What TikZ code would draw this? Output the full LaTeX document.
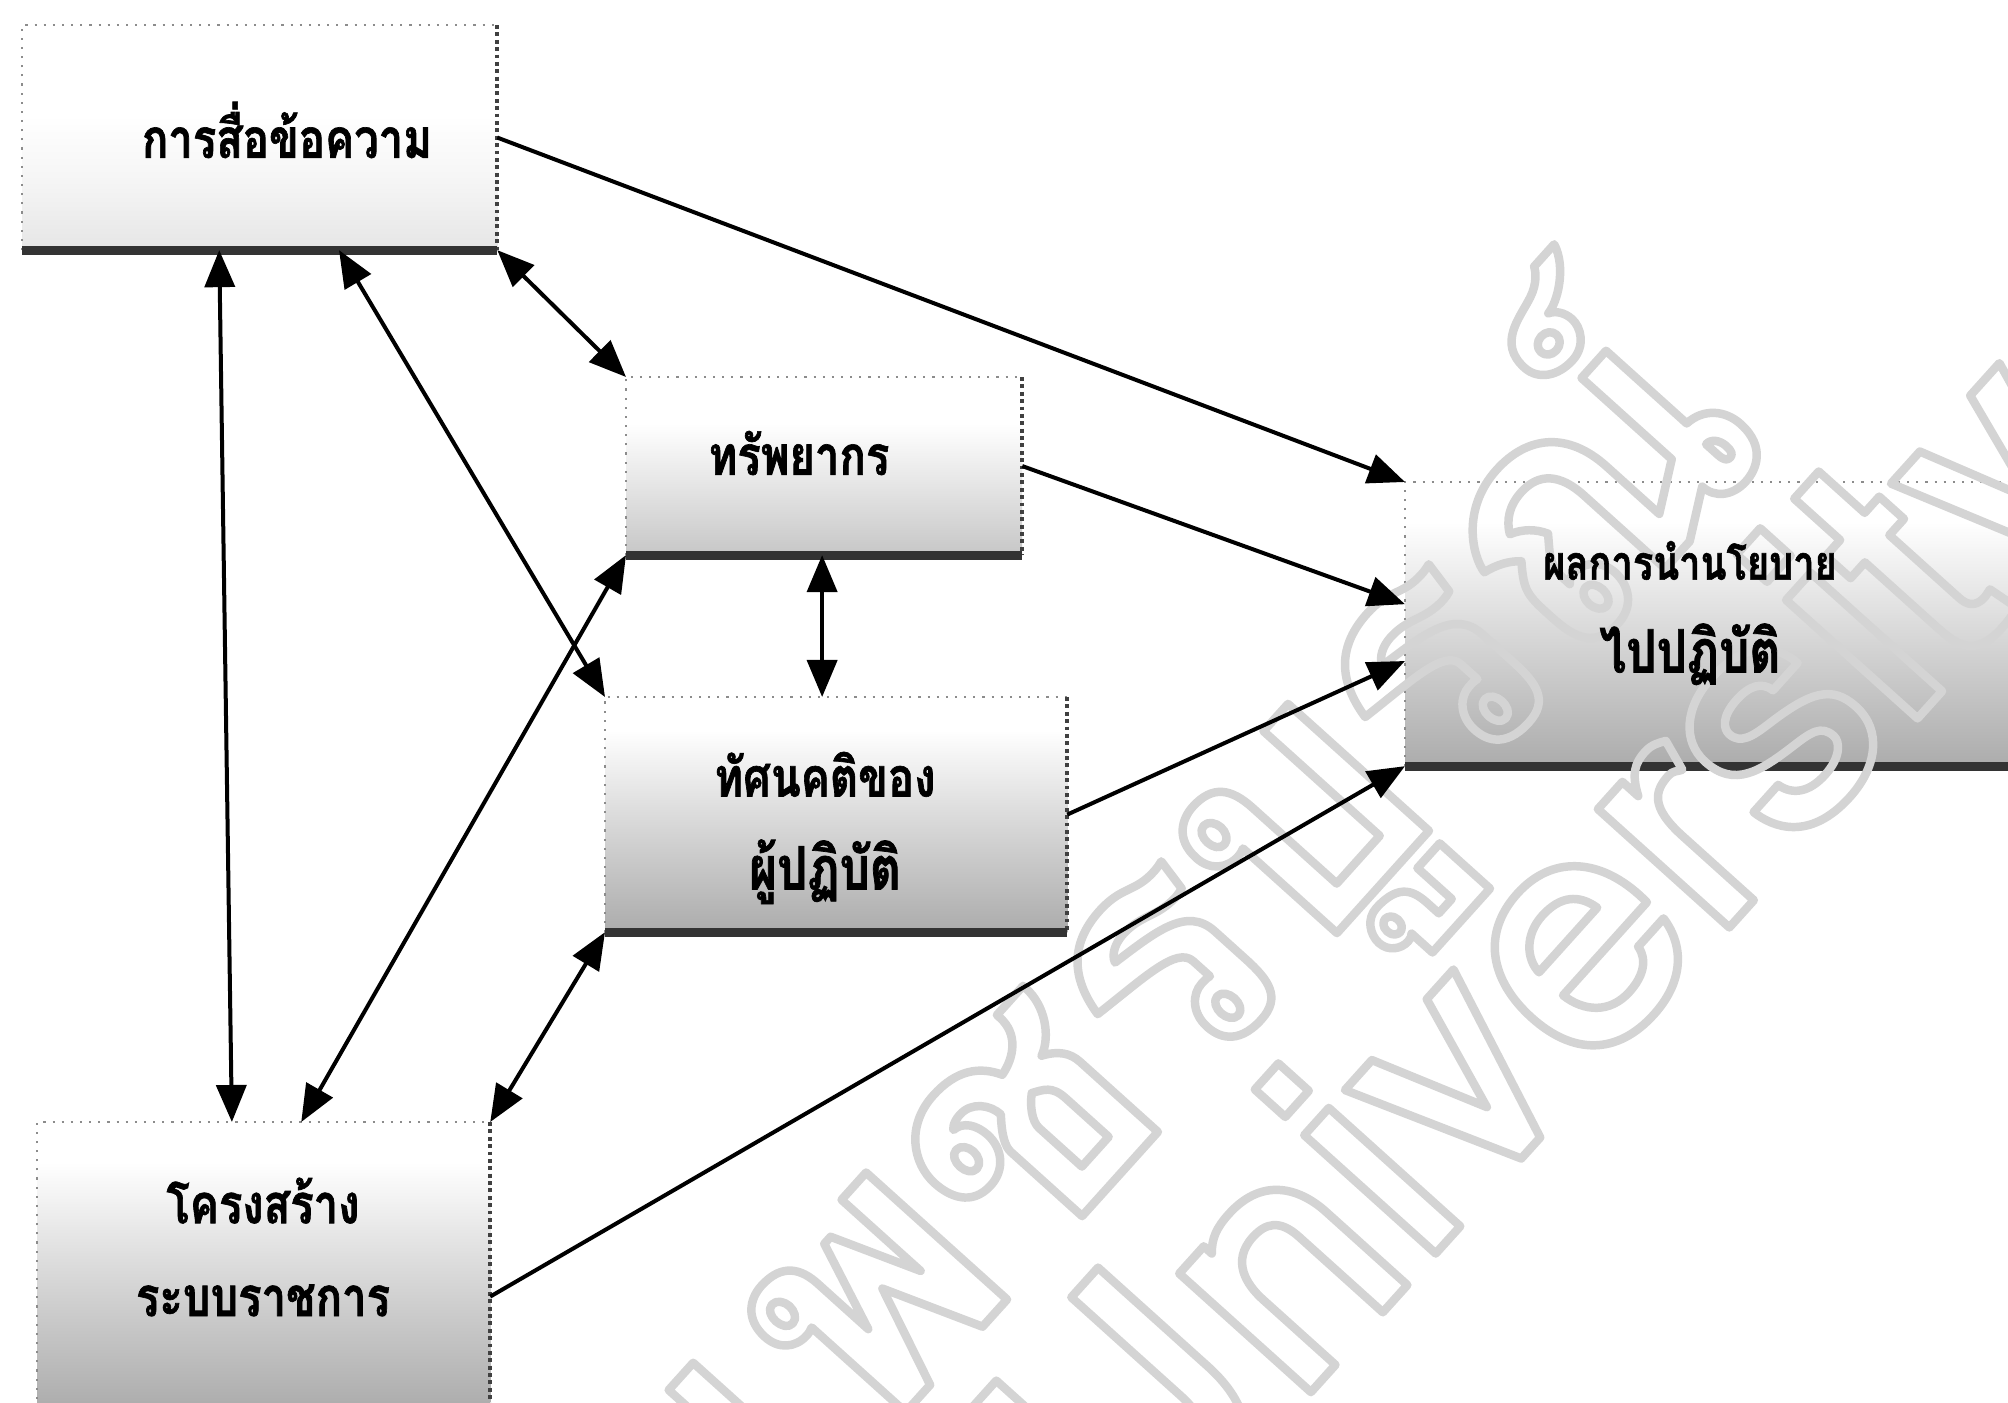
\documentclass[tikz,border=0pt]{standalone}
\usepackage{fontspec}
\newfontfamily\thaifont[Script=Thai]{Loma}
\newfontfamily\lblfont[Script=Thai, FakeStretch=0.8, FakeBold=1.2]{Loma}
\usetikzlibrary{arrows.meta,calc}

% box fills: white at the top, darkening towards the bottom edge
\pgfdeclareverticalshading{shadeLight}{100bp}{color(0bp)=(black!24); color(12bp)=(black!15); color(40bp)=(black!4); color(55bp)=(white); color(100bp)=(white)}
\pgfdeclareverticalshading{shadeMid}{100bp}{color(0bp)=(black!40); color(12bp)=(black!30); color(45bp)=(black!10); color(62bp)=(white); color(100bp)=(white)}
\pgfdeclareverticalshading{shadeDark}{100bp}{color(0bp)=(black!50); color(15bp)=(black!40); color(50bp)=(black!14); color(68bp)=(white); color(100bp)=(white)}

% stroked (outline) text for the stamp across the page
\newcommand\outl[1]{\special{pdf:literal 1 Tr 2.4 w 1 j}#1\special{pdf:literal 0 Tr}}
\newcommand\lsize[1]{\fontsize{#1}{26.4}\selectfont}

\tikzset{
  box/.style={rectangle, anchor=north west, inner sep=0pt, outer sep=0pt},
  lbl/.style={font=\lblfont\bfseries\fontsize{15.5}{26.4}\selectfont, align=center, inner sep=0pt},
  wm/.style={font=\thaifont\bfseries\fontsize{97}{110}\selectfont, text=black!17, rotate=48, inner sep=0pt},
  topedge/.style={draw=black!45, line width=0.6pt, dotted},
  rightedge/.style={draw=black!75, line width=1.1pt, densely dotted},
  bottomedge/.style={draw=black!80, line width=0.09cm},
  bigtip/.tip={Triangle[length=0.37cm,width=0.3cm]},
  conn/.style={line width=0.04cm, -{bigtip}},
  bi/.style={line width=0.04cm, {bigtip}-{bigtip}}
}

\begin{document}
\begin{tikzpicture}[x=0.01cm,y=-0.01cm]
\useasboundingbox (0,0) rectangle (2008,1403);
\clip (0,0) rectangle (2008,1403);
\fill[white] (0,0) rectangle (2008,1403);

% boxes
\node[box, shading=shadeLight, minimum width=4.75cm, minimum height=2.25cm] (b1) at (22,25) {};
\node[box, shading=shadeMid,   minimum width=3.96cm, minimum height=1.78cm] (b2) at (626,377) {};
\node[box, shading=shadeDark,  minimum width=4.62cm, minimum height=2.35cm] (b3) at (605,697) {};
\node[box, shading=shadeDark,  minimum width=4.53cm, minimum height=2.86cm] (b4) at (37,1122) {};
\node[box, shading=shadeDark,  minimum width=6.28cm, minimum height=2.84cm] (b5) at (1405,482) {};

\foreach \b in {b1,b2,b3,b4,b5}{
  \draw[topedge] (\b.south west) |- (\b.north east);
  \draw[rightedge] (\b.north east) -- (\b.south east);
  \draw[bottomedge] (\b.south west) -- (\b.south east);
}

% stamp
\node[wm, anchor=base east] (wm1) at (1780,441) {\outl{มหาวิทยาลัยราชภัฏเพชรบูรณ์}};
\node[wm, anchor=base east] (wm2) at (2134,478) {\outl{Phetchabun Rajabhat University}};

% labels
\node[lbl] (l1) at (287,130) {การสื่อข้อความ};
\node[lbl] (l2) at (799,453) {ทรัพยากร};
\node[lbl] (l3) at (825,828) {ทัศนคติของ\\\lsize{17}ผู้ปฏิบัติ};
\node[lbl] (l4) at (263,1247) {โครงสร้าง\\ระบบราชการ};
\node[lbl] (l5) at (1690,613) {\lsize{13.5}ผลการนำนโยบาย\\\lsize{17}ไปปฏิบัติ};

% influences on the outcome
\draw[conn] (b1.east) -- (b5.north west);
\draw[conn] (b2.east) -- ($(b5.north west)!0.43!(b5.south west)$);
\draw[conn] (b3.east) -- ($(b5.north west)!0.63!(b5.south west)$);
\draw[conn] ($(b4.north east)!0.61!(b4.south east)$) -- (b5.south west);

% mutual links between the factors
\draw[bi] ($(b1.south west)!0.415!(b1.south east)$) -- ($(b4.north west)!0.43!(b4.north east)$);
\draw[bi] ($(b1.south west)!0.667!(b1.south east)$) -- (b3.north west);
\draw[bi] (b1.south east) -- (b2.north west);
\coordinate (c8) at ($(b2.south west)!0.495!(b2.south east)$);
\draw[bi] (c8) -- (c8 |- b3.north);
\draw[bi] (b2.south west) -- ($(b4.north west)!0.583!(b4.north east)$);
\draw[bi] (b3.south west) -- (b4.north east);
\end{tikzpicture}
\end{document}
